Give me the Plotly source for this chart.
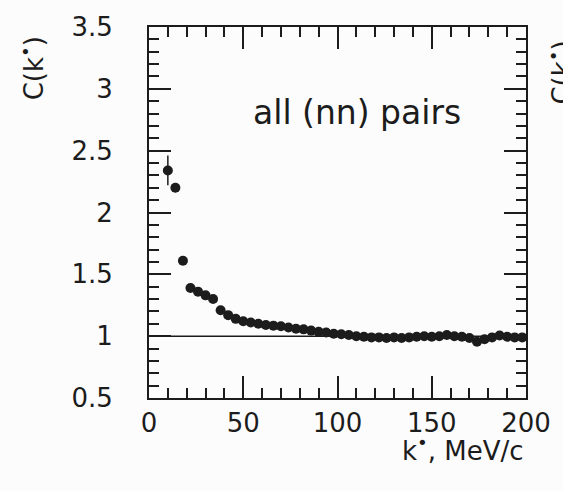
import plotly.graph_objects as go

# Correlation function C(k*) for all (nn) pairs, 4 MeV/c bins
k_star = [10, 14, 18, 22, 26, 30, 34, 38, 42, 46, 50, 54, 58, 62, 66, 70, 74, 78,
          82, 86, 90, 94, 98, 102, 106, 110, 114, 118, 122, 126, 130, 134, 138,
          142, 146, 150, 154, 158, 162, 166, 170, 174, 178, 182, 186, 190, 194, 198]
c_val = [2.34, 2.20, 1.61, 1.39, 1.36, 1.33, 1.30, 1.21, 1.17, 1.14, 1.12, 1.11,
         1.10, 1.09, 1.085, 1.08, 1.07, 1.06, 1.055, 1.045, 1.035, 1.03, 1.02, 1.015,
         1.01, 1.0, 0.995, 0.99, 0.99, 0.985, 0.99, 0.985, 0.99, 0.995, 1.0, 0.995,
         1.0, 1.01, 1.0, 0.995, 0.985, 0.955, 0.975, 0.99, 1.005, 0.995, 0.99, 0.99]
c_err = [0.12, 0.035, 0.03] + [0.02] * (len(k_star) - 3)

x_ticks = [0, 50, 100, 150, 200]
y_ticks = [0.5, 1, 1.5, 2, 2.5, 3, 3.5]
y_tick_text = ["0.5", "1", "1.5", "2", "2.5", "3", "3.5"]

ink = "#1c1c1c"
font_main = "DejaVu Sans"

fig = go.Figure()

# unity reference line
fig.add_trace(go.Scatter(
    x=[0, 200], y=[1, 1], mode="lines",
    line=dict(color=ink, width=1.5), hoverinfo="skip", showlegend=False,
))

fig.add_trace(go.Scatter(
    x=k_star, y=c_val, mode="markers",
    marker=dict(color=ink, size=10, line=dict(width=0)),
    error_y=dict(type="data", array=c_err, color=ink, thickness=1.5, width=0),
    showlegend=False,
))

axis_common = dict(
    showline=True, linecolor=ink, linewidth=2, mirror="allticks",
    ticks="inside", ticklen=22, tickwidth=2, tickcolor=ink,
    showgrid=False, zeroline=False,
    tickfont=dict(family=font_main, size=26, color=ink),
)

fig.update_xaxes(
    range=[0, 200], tickvals=x_ticks, ticktext=[str(v) for v in x_ticks],
    minor=dict(dtick=10, ticks="inside", ticklen=10, tickwidth=2, tickcolor=ink, showgrid=False),
    ticklabelstandoff=1,
    **axis_common,
)
fig.update_yaxes(
    range=[0.5, 3.5], tickvals=y_ticks, ticktext=y_tick_text,
    minor=dict(dtick=0.1, tick0=0.5, ticks="inside", ticklen=10, tickwidth=2, tickcolor=ink, showgrid=False),
    ticklabelstandoff=29,
    **axis_common,
)

fig.add_annotation(
    text="all (nn) pairs", xref="paper", yref="paper", x=0.551, y=0.77,
    xanchor="center", yanchor="middle", showarrow=False,
    font=dict(family=font_main, size=33, color=ink),
)
fig.add_annotation(
    text="k<sup>•</sup>, MeV/c", xref="paper", yref="paper", x=1.0, y=-0.137,
    xanchor="right", yanchor="middle", showarrow=False,
    font=dict(family=font_main, size=26, color=ink),
)
fig.add_annotation(
    text="C(k<sup>•</sup>)", xref="paper", yref="paper", x=-0.31, y=0.889,
    xanchor="center", yanchor="middle", textangle=-90, showarrow=False,
    font=dict(family=font_main, size=26, color=ink),
)
# label of the neighbouring panel, running off the right edge
fig.add_annotation(
    text="C(k<sup>•</sup>)", xref="paper", yref="paper", x=1.091, y=0.878,
    xanchor="center", yanchor="middle", textangle=-90, showarrow=False,
    font=dict(family=font_main, size=26, color=ink),
)

fig.update_layout(
    width=563, height=491,
    margin=dict(l=149, r=31, t=20, b=93),
    paper_bgcolor="#fcfcfc", plot_bgcolor="#fcfcfc",
)

fig.write_html("out.html")
